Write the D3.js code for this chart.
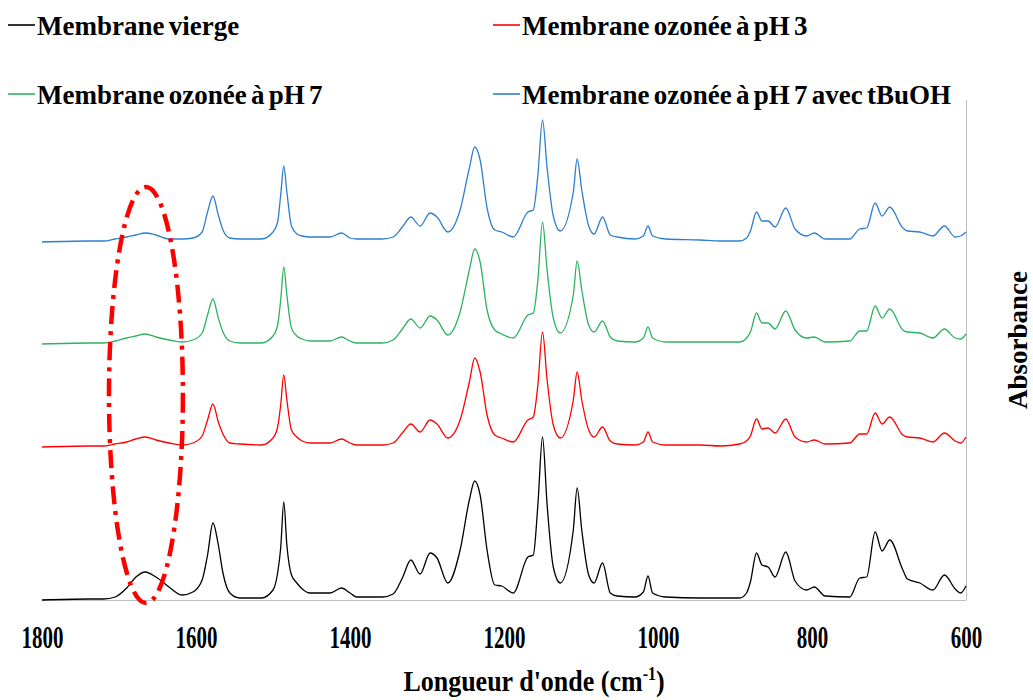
<!DOCTYPE html>
<html><head><meta charset="utf-8">
<script src="https://cdn.jsdelivr.net/npm/d3@7"></script>
<style>
body{margin:0;background:#fff}
svg{display:block}
text{font-family:"Liberation Serif","Times New Roman",serif;font-weight:bold;fill:#000}
</style>
</head><body>
<svg id="chart" width="1033" height="700"></svg>
<script>
// Wavenumbers (cm-1), shared by all spectra
const wavenumbers = [1800,1740,1720,1705,1690,1678,1666,1652,1635,1618,
1604,1592,1585,1578,1571,1565,1556,1543,1515,1500,
1494,1490,1486,1482,1476,1469,1462,1452,1426,1411,
1400,1391,1358,1344,1332,1321,1309,1296,1287,1273,
1257,1245,1238,1231,1222,1212,1203,1188,1169,1162,
1156,1150,1144,1136,1127,1110,1105,1099,1090,1083,
1072,1062,1053,1030,1019,1013,1007,990,945,919,
894,885,880,872,865,857,848,834,822,807,
797,783,751,738,729,718,709,699,682,676,
660,643,628,614,607,600];

const seriesNames = ["Membrane vierge","Membrane ozonée à pH 3","Membrane ozonée à pH 7","Membrane ozonée à pH 7 avec tBuOH"];

const vierge = [0.00,0.01,0.01,0.03,0.12,0.23,0.28,0.23,0.13,0.05,
0.08,0.20,0.45,0.77,0.55,0.27,0.07,0.02,0.02,0.10,
0.27,0.52,0.98,0.55,0.25,0.17,0.11,0.07,0.07,0.12,
0.07,0.03,0.03,0.06,0.22,0.40,0.26,0.47,0.42,0.17,
0.50,1.00,1.19,1.05,0.50,0.15,0.14,0.07,0.43,0.45,
0.95,1.63,0.95,0.33,0.17,0.70,1.12,0.70,0.25,0.17,
0.37,0.07,0.04,0.03,0.08,0.24,0.07,0.03,0.02,0.02,
0.02,0.07,0.18,0.47,0.35,0.33,0.23,0.48,0.19,0.10,
0.13,0.04,0.03,0.22,0.23,0.68,0.49,0.60,0.30,0.21,
0.17,0.10,0.25,0.11,0.07,0.14];

const ozonePH3 = [1.53,1.54,1.54,1.56,1.58,1.61,1.63,1.60,1.57,1.55,
1.57,1.64,1.80,1.96,1.78,1.66,1.57,1.56,1.55,1.62,
1.73,1.95,2.25,2.00,1.70,1.63,1.59,1.57,1.57,1.61,
1.57,1.55,1.55,1.57,1.67,1.76,1.68,1.80,1.76,1.62,
1.80,2.18,2.42,2.28,1.85,1.65,1.62,1.58,1.80,1.83,
2.15,2.68,2.20,1.75,1.62,2.00,2.28,2.00,1.70,1.63,
1.73,1.59,1.56,1.55,1.58,1.68,1.58,1.55,1.55,1.54,
1.56,1.59,1.64,1.81,1.71,1.72,1.67,1.81,1.63,1.58,
1.60,1.56,1.57,1.66,1.66,1.87,1.76,1.83,1.65,1.63,
1.62,1.58,1.67,1.59,1.57,1.63];

const ozonePH7 = [2.56,2.57,2.57,2.59,2.62,2.64,2.66,2.63,2.60,2.58,
2.60,2.67,2.85,3.01,2.82,2.68,2.59,2.57,2.57,2.64,
2.75,3.00,3.33,3.05,2.72,2.64,2.61,2.59,2.59,2.63,
2.59,2.57,2.57,2.60,2.71,2.81,2.72,2.84,2.80,2.65,
2.88,3.30,3.51,3.38,2.90,2.70,2.66,2.62,2.85,2.87,
3.20,3.78,3.30,2.82,2.67,3.05,3.39,3.10,2.75,2.68,
2.79,2.63,2.59,2.58,2.62,2.73,2.62,2.58,2.58,2.58,
2.58,2.62,2.68,2.87,2.77,2.77,2.71,2.89,2.70,2.62,
2.63,2.58,2.59,2.69,2.69,2.94,2.82,2.91,2.70,2.68,
2.67,2.62,2.71,2.62,2.61,2.66];

const ozonePH7tBuOH = [3.58,3.59,3.59,3.61,3.63,3.65,3.67,3.65,3.61,3.61,
3.62,3.68,3.88,4.04,3.85,3.70,3.62,3.61,3.61,3.68,
3.78,4.05,4.34,4.08,3.74,3.66,3.64,3.63,3.63,3.67,
3.62,3.61,3.61,3.63,3.73,3.83,3.74,3.87,3.83,3.68,
3.90,4.32,4.53,4.40,3.92,3.70,3.68,3.63,3.88,3.90,
4.25,4.80,4.32,3.84,3.69,4.08,4.41,4.10,3.74,3.66,
3.83,3.65,3.63,3.61,3.64,3.74,3.64,3.61,3.60,3.59,
3.59,3.62,3.69,3.88,3.79,3.79,3.73,3.92,3.71,3.64,
3.67,3.61,3.61,3.71,3.72,3.97,3.84,3.93,3.72,3.69,
3.68,3.64,3.74,3.63,3.64,3.68];

const seriesColors = ["#000000","#ff0000","#2db35f","#2e7fd0"];
const xTickValues = [1800,1600,1400,1200,1000,800,600];
// highlighted region (ellipse) in data units
const highlightCenter = [1665, 2.05];
const highlightRadii = [48, 2.08];

const allSeries = [vierge, ozonePH3, ozonePH7, ozonePH7tBuOH];

const svg = d3.select("#chart");
const x = d3.scaleLinear().domain([1800,600]).range([42,966]);
const y = d3.scaleLinear().domain([0,5]).range([600,100]);

// plot borders: bottom axis and right value axis
svg.append("line").attr("x1",x(1800)).attr("x2",x(600)).attr("y1",600.5).attr("y2",600.5)
  .attr("stroke","#bfbfbf").attr("stroke-width",1);
svg.append("line").attr("x1",x(600)+0.5).attr("x2",x(600)+0.5).attr("y1",y(5)).attr("y2",600.5)
  .attr("stroke","#bfbfbf").attr("stroke-width",1);

const line = d3.line().x((d,i)=>x(wavenumbers[i])).y(d=>y(d)).curve(d3.curveMonotoneX);
allSeries.forEach((s,k)=>{
  svg.append("path").datum(s).attr("d",line).attr("fill","none")
    .attr("stroke",seriesColors[k]).attr("stroke-width",1.3).attr("stroke-linejoin","round");
});

// x tick labels
const xAxis = d3.axisBottom(x).tickValues(xTickValues).tickSize(0).tickPadding(0).tickFormat(d3.format("d"));
const gx = svg.append("g").attr("transform","translate(0,648)").call(xAxis);
gx.select(".domain").remove();
gx.selectAll("text").attr("dy",0).attr("y",0).attr("font-size",21)
  .attr("font-family",'"Liberation Serif","Times New Roman",serif').attr("font-weight","bold")
  .attr("fill","#000").attr("transform","scale(1,1.5)");

// axis title
const xt = svg.append("text").attr("text-anchor","middle").attr("font-size",26)
  .attr("transform",`translate(534,691) scale(1,1.12)`);
xt.append("tspan").text("Longueur d'onde (cm");
xt.append("tspan").attr("font-size",16).attr("dy",-10).text("-1");
xt.append("tspan").attr("dy",10).text(")");

svg.append("text").attr("text-anchor","middle").attr("font-size",27)
  .attr("transform","translate(1027,340) rotate(-90)").text("Absorbance");

// legend
const legendPos = [[8,25],[493,25],[8,94],[493,94]];
seriesNames.forEach((n,k)=>{
  const [lx,ly]=legendPos[k];
  svg.append("line").attr("x1",lx).attr("x2",lx+27).attr("y1",ly).attr("y2",ly)
    .attr("stroke",seriesColors[k]).attr("stroke-width",1.6);
  svg.append("text").attr("x",lx+29).attr("y",ly+10).attr("font-size",27)
    .attr("word-spacing",-2.5).text(n);
});

// highlight ellipse
svg.append("ellipse")
  .attr("cx",x(highlightCenter[0])).attr("cy",y(highlightCenter[1]))
  .attr("rx",Math.abs(x(highlightCenter[0]+highlightRadii[0])-x(highlightCenter[0])))
  .attr("ry",Math.abs(y(highlightCenter[1]+highlightRadii[1])-y(highlightCenter[1])))
  .attr("fill","none").attr("stroke","#ff0000").attr("stroke-width",4.5)
  .attr("stroke-dasharray","18,7,4,7");
</script>
</body></html>
